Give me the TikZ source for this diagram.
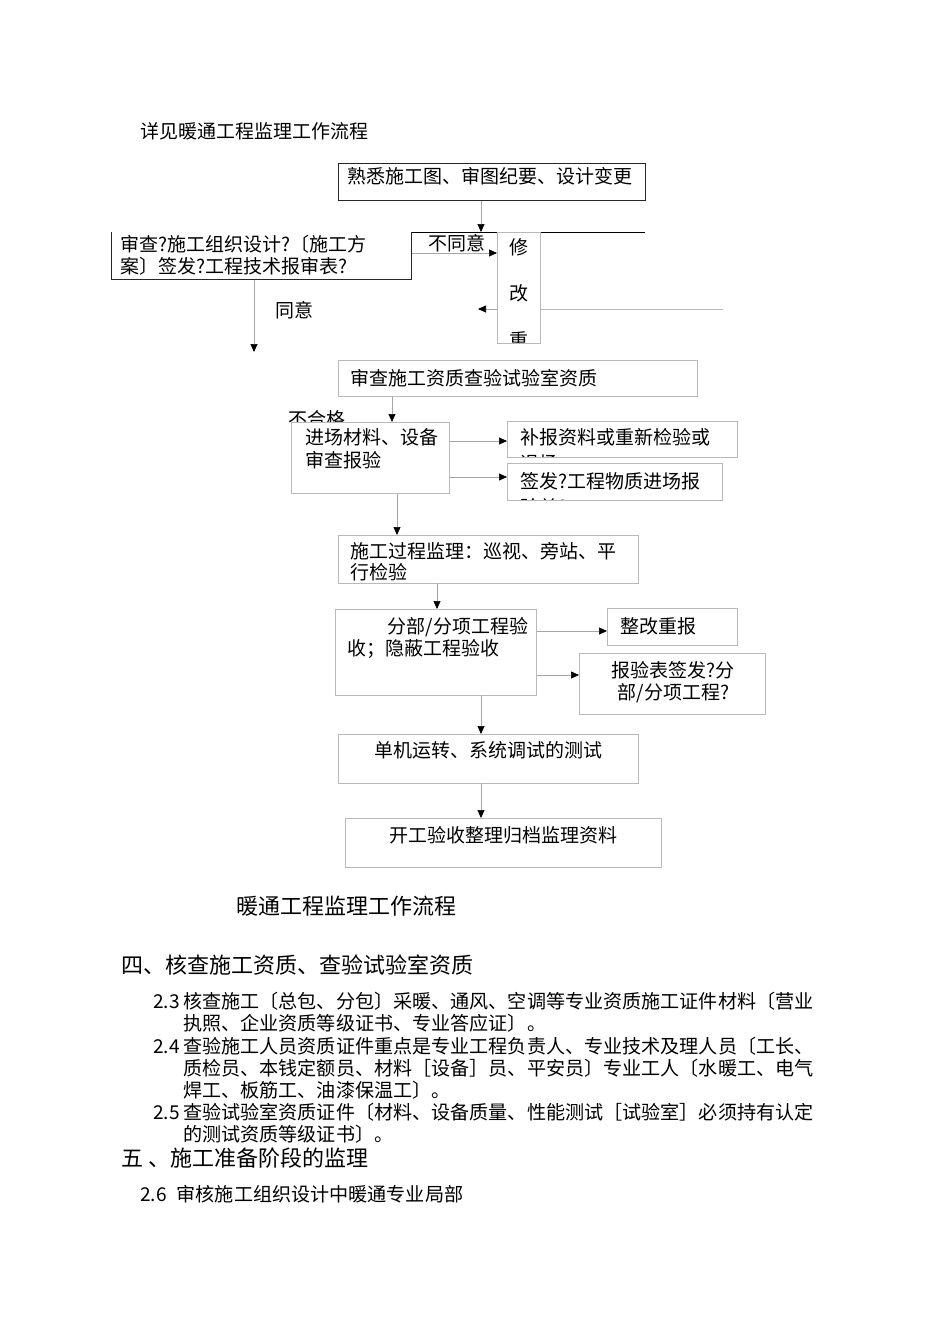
\documentclass[tikz,border=0pt]{standalone}
\usepackage{fontspec}
\setmainfont{Noto Sans CJK SC}
\usetikzlibrary{positioning,arrows.meta}
\tikzset{
  % --- flow boxes ------------------------------------------------------------
  fbox/.style={rectangle,draw=gray!55,fill=white,line width=0.7pt,inner sep=0pt,
               anchor=north west},
  fboxdark/.style={fbox,draw=black!85},
  % texts inside boxes (drawn as path pictures, so reset the box sizes)
  btext/.style={anchor=base west,inner sep=0pt,minimum size=0pt,draw=none,fill=none,
                align=left,text width=320pt,font=\fontsize{19}{22}\selectfont},
  stext/.style={anchor=base west,inner sep=0pt,minimum size=0pt,draw=none,fill=none,
                font=\fontsize{19}{22}\selectfont},
  ctext/.style={anchor=base,inner sep=0pt,minimum size=0pt,draw=none,fill=none,
                align=center,text width=300pt,font=\fontsize{19}{22}\selectfont},
  % --- connectors ------------------------------------------------------------
  arr/.style={gray!70,line width=0.7pt,-{Triangle[length=8pt,width=7pt,color=black]}},
  gline/.style={gray!55,line width=0.7pt},
  % --- loose texts -----------------------------------------------------------
  lab/.style={anchor=base west,inner sep=0pt,font=\fontsize{19}{22}\selectfont},
  para/.style={anchor=base west,inner sep=0pt,font=\fontsize{19.1}{22}\selectfont},
  head/.style={anchor=base west,inner sep=0pt,font=\fontsize{22}{26}\selectfont},
}

\begin{document}
\begin{tikzpicture}[x=1pt, y=-1pt]
  \useasboundingbox[fill=white] (0,0) rectangle (950,1344);

  \node[lab] (ttl) at (140,138) {详见暖通工程监理工作流程};

  % top part of the flow
  \node[fboxdark,minimum width=307,minimum height=37,
        path picture={\node[stext] at ([shift={(9,20)}]path picture bounding box.north west)
          {熟悉施工图、审图纪要、设计变更};}] (fam) at (338,163) {};
  \coordinate (barL) at (338,232); \coordinate (barR) at (645,232);
  \draw[black,line width=0.8pt] (barL) -- (barR);
  \draw[arr] (fam.south -| 481,0) -- (barL -| 481,0);

  \node[fbox,draw=none,minimum width=300,minimum height=47,
        path picture={\node[btext] at ([shift={(9,19)}]path picture bounding box.north west)
          {审查?施工组织设计?〔施工方\\案〕签发?工程技术报审表?};}] (rev) at (111,232) {};
  \draw[black!85,line width=0.7pt] (rev.north west) |- (rev.south east) -- (rev.north east);

  \node[fbox,minimum width=43,minimum height=111,
        path picture={\node[ctext,text width=19pt,font=\fontsize{19}{46.5}\selectfont]
          at ([shift={(21.5,22)}]path picture bounding box.north west) {修\\改\\重};}]
        (mod) at (497,232) {};
  \draw[arr] (rev.east |- 0,253) -- (mod.west |- 0,253);
  \node[lab] (dis) at (428,250) {不同意};

  \coordinate (retR) at (723,309); \coordinate (retL) at (478,309);
  \draw[gline] (retR) -- (mod.east |- retR);
  \draw[arr] (mod.west |- retR) -- (retL);

  \coordinate (agr) at (254,352);
  \draw[arr] (rev.south -| agr) -- (agr);
  \node[lab] (agl) at (275,317) {同意};

  % qualification and materials
  \node[fbox,minimum width=359,minimum height=36,
        path picture={\node[stext] at ([shift={(12,25)}]path picture bounding box.north west)
          {审查施工资质查验试验室资质};}] (qual) at (338,360) {};
  \node[lab] (ng) at (288,426) {不合格};
  \node[fbox,minimum width=158,minimum height=71,
        path picture={\node[btext,font=\fontsize{19}{23}\selectfont]
          at ([shift={(14,22)}]path picture bounding box.north west)
          {进场材料、设备\\审查报验};}] (mat) at (291,422) {};
  \draw[arr] (qual.south -| 392,0) -- (mat.north -| 392,0);

  \node[fbox,minimum width=230,minimum height=36,
        path picture={\node[btext,font=\fontsize{19}{26}\selectfont]
          at ([shift={(13,23)}]path picture bounding box.north west)
          {补报资料或重新检验或\\退场};}] (redo) at (507,421) {};
  \node[fbox,minimum width=215,minimum height=37,
        path picture={\node[btext,font=\fontsize{19}{26}\selectfont]
          at ([shift={(13,25)}]path picture bounding box.north west)
          {签发?工程物质进场报\\验单?};}] (sign) at (507,463) {};
  \draw[arr] (mat.east |- 0,441) -- (redo.west |- 0,441);
  \draw[arr] (mat.east |- 0,477) -- (sign.west |- 0,477);

  % construction and acceptance
  \node[fbox,minimum width=300,minimum height=48,
        path picture={\node[btext,font=\fontsize{19}{21}\selectfont]
          at ([shift={(12,23)}]path picture bounding box.north west)
          {施工过程监理：巡视、旁站、平\\行检验};}] (proc) at (338,535) {};
  \draw[arr] (mat.south -| 397,0) -- (proc.north -| 397,0);

  \node[fbox,minimum width=201,minimum height=86,
        path picture={\node[btext] at ([shift={(12,24)}]path picture bounding box.north west)
          {\hspace*{40pt}分部/分项工程验\\收；隐蔽工程验收};}] (acc) at (335,609) {};
  \draw[arr] (proc.south -| 437,0) -- (acc.north -| 437,0);

  \node[fbox,minimum width=130,minimum height=37,
        path picture={\node[stext] at ([shift={(13,25)}]path picture bounding box.north west)
          {整改重报};}] (fix) at (607,608) {};
  \node[fbox,minimum width=186,minimum height=61,
        path picture={\node[ctext,text width=186pt]
          at ([shift={(94,24)}]path picture bounding box.north west)
          {报验表签发?分\\部/分项工程?};}] (rep) at (579,653) {};
  \draw[arr] (acc.east |- 0,631) -- (fix.west |- 0,631);
  \draw[arr] (acc.east |- 0,675) -- (rep.west |- 0,675);

  \node[fbox,minimum width=300,minimum height=49,
        path picture={\node[ctext] at ([shift={(150,23)}]path picture bounding box.north west)
          {单机运转、系统调试的测试};}] (test) at (338,734) {};
  \node[fbox,minimum width=316,minimum height=49,
        path picture={\node[ctext] at ([shift={(158,24)}]path picture bounding box.north west)
          {开工验收整理归档监理资料};}] (arch) at (345,818) {};
  \draw[arr] (acc.south -| 481,0) -- (test.north -| 481,0);
  \draw[arr] (test.south -| 481,0) -- (arch.north -| 481,0);

  \node[head] (cap) at (236,914) {暖通工程监理工作流程};

  % text below the flow
  \node[head] (h4) at (121,973) {四、核查施工资质、查验试验室资质};
  \node[para] (n23) at (153,1008) {2.3};
  \node[para] (t23a) at (183,1008) {核查施工〔总包、分包〕采暖、通风、空调等专业资质施工证件材料〔营业};
  \node[para] (t23b) at (183,1030) {执照、企业资质等级证书、专业答应证〕。};
  \node[para] (n24) at (153,1053) {2.4};
  \node[para] (t24a) at (183,1053) {查验施工人员资质证件重点是专业工程负责人、专业技术及理人员〔工长、};
  \node[para] (t24b) at (183,1075) {质检员、本钱定额员、材料［设备］员、平安员〕专业工人〔水暖工、电气};
  \node[para] (t24c) at (183,1097) {焊工、板筋工、油漆保温工〕。};
  \node[para] (n25) at (153,1119) {2.5};
  \node[para] (t25a) at (183,1119) {查验试验室资质证件〔材料、设备质量、性能测试［试验室］必须持有认定};
  \node[para] (t25b) at (183,1141) {的测试资质等级证书〕。};
  \node[head] (h5) at (121,1166) {五 、施工准备阶段的监理};
  \node[para] (n26) at (140,1201) {2.6\hspace{10pt}审核施工组织设计中暖通专业局部};
\end{tikzpicture}
\end{document}
